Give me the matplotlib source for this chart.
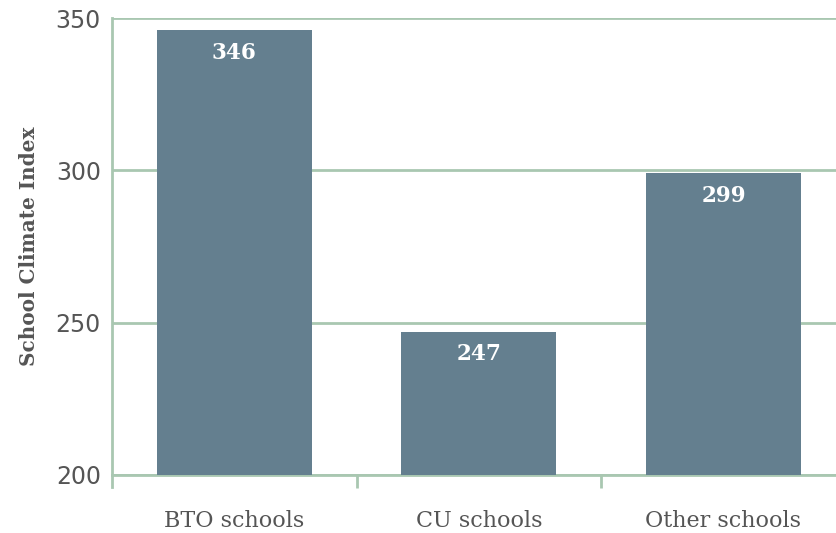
import numpy as np
import matplotlib.pyplot as plt

categories = ["BTO schools", "CU schools", "Other schools"]
values = [346, 247, 299]
yticks = [200, 250, 300, 350]

bar_color = "#647f8f"
grid_color = "#a9c7b1"
text_color = "#555555"

fig = plt.figure(figsize=(8.36, 5.33), dpi=100)
ax = fig.add_axes([0.134, 0.109, 0.866, 0.857])

x = np.arange(len(categories))
ax.bar(x, [v - 200 for v in values], bottom=200, width=0.634, color=bar_color, zorder=3)

for xi, v in zip(x, values):
    ax.text(xi, v - 7.3, str(v), ha="center", va="center", color="white",
            fontsize=15.5, fontweight="bold", family="DejaVu Serif", zorder=4)

ax.set_ylim(200, 350)
ax.set_xlim(-0.5, 2.46)
ax.set_yticks(yticks)
ax.set_yticklabels([str(t) for t in yticks], fontsize=17, color=text_color, family="DejaVu Sans")
ax.yaxis.grid(True, color=grid_color, linewidth=2, zorder=0)
ax.tick_params(axis="y", length=0, pad=8)

ax.set_xticks([0.5, 1.5], minor=True)
ax.set_xticks(x)
ax.set_xticklabels(categories, fontsize=16, color=text_color, family="DejaVu Serif")
ax.tick_params(axis="x", which="major", length=0, pad=25)
ax.tick_params(axis="x", which="minor", length=9, width=2, color=grid_color)

for side in ["top", "right"]:
    ax.spines[side].set_visible(False)
ax.spines["bottom"].set_color(grid_color)
ax.spines["bottom"].set_linewidth(2)
ax.spines["left"].set_color(grid_color)
ax.spines["left"].set_linewidth(2)
ax.spines["left"].set_bounds(196, 350)

ax.set_ylabel("School Climate Index", fontsize=14.4, fontweight="bold",
              color=text_color, family="DejaVu Serif", labelpad=12)

fig.savefig("out.png", dpi=100)
